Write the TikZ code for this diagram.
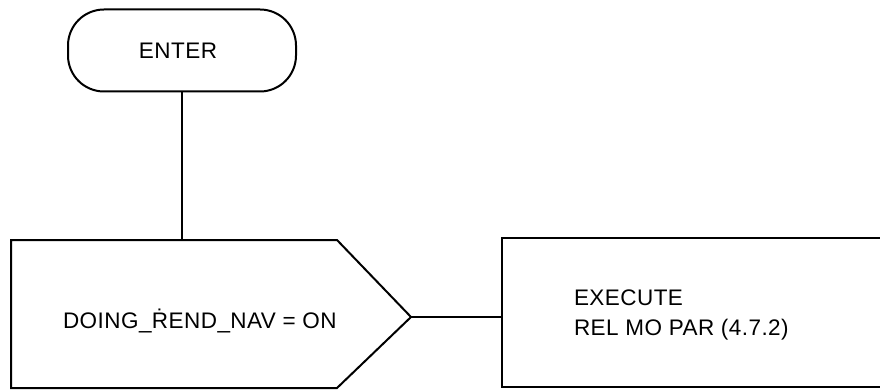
\documentclass[tikz,border=0pt]{standalone}
\usepackage{fontspec}
\setmainfont{Liberation Sans}[LetterSpace=2]
\begin{document}
\begin{tikzpicture}[x=1pt,y=-1pt,
  line width=2pt,
  lbl/.style={inner sep=0pt,font=\fontsize{22.5}{27}\selectfont},
  term/.style={draw,rounded corners=36pt,minimum width=228pt,minimum height=82pt,inner sep=0pt},
  procbox/.style={draw,minimum width=440pt,minimum height=149pt,inner sep=0pt}]
\useasboundingbox (0,0) rectangle (880,390);
\clip (0,0) rectangle (880,390);
% terminal
\node[term] (enter) at (182,50.5) {};
\node[lbl,anchor=base] (entertxt) at (178,59) {ENTER};
% pentagon (off-page style)
\coordinate (ptl) at (11,240);
\coordinate (ptr) at (337,240);
\coordinate (tip) at (411,317);
\coordinate (pbr) at (337,388);
\coordinate (pbl) at (11,388);
\draw (ptl) -- (ptr) -- (tip) -- (pbr) -- (pbl) -- cycle;
\node[lbl,anchor=base west] (doing) at (62,328) {DOING\_ṘEND\_NAV = ON};
% process box (right side runs off the picture)
\node[procbox] (exec) at (722,312.5) {};
\node[lbl,anchor=base west] (exec1) at (573,305) {EXECUTE};
\node[lbl,anchor=base west] (exec2) at (573,335) {REL MO PAR (4.7.2)};
% connectors
\draw (enter.south) -- (enter.south |- ptl);
\draw (tip) -- (exec.west |- tip);
\end{tikzpicture}
\end{document}
